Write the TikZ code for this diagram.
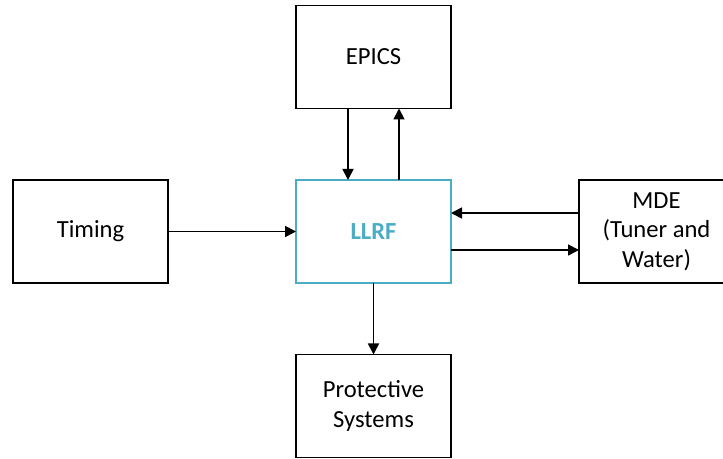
\documentclass[tikz,border=0pt]{standalone}
\usepackage{fontspec}
\setmainfont{Carlito}
\usetikzlibrary{positioning,arrows.meta}
\definecolor{llrfblue}{HTML}{4BACC6}

\begin{document}
\begin{tikzpicture}[
    font=\fontsize{14}{16.8}\selectfont,
    node distance=1.43cm and 2.56cm,
    box/.style={
        draw,
        minimum width=3.1cm,
        minimum height=2.06cm,
        align=center,
        outer sep=0pt,
        line width=1pt
    },
    arr/.style={-{Triangle[length=2.2mm,width=2.2mm]}, line width=1pt}
]
    \useasboundingbox (0,0) rectangle (14.46,9.18);
    %% Zentrale Regelung
    \node[box, draw=llrfblue, text=llrfblue, font=\fontsize{14}{16.8}\selectfont\bfseries] (llrf) at (7.47,4.55) {LLRF};
    %% Umgebende Systeme
    \node[box, above=of llrf] (epics) {EPICS};
    \node[box, left=of llrf] (timing) {Timing};
    \node[box, right=of llrf] (mde) {MDE\\(Tuner and\\Water)};
    \node[box, below=of llrf] (protect) {Protective\\Systems};

    %% Pfeile
    \draw[arr] ([xshift=-0.51cm]epics.south) -- ([xshift=-0.51cm]llrf.north);
    \draw[arr] ([xshift=0.51cm]llrf.north) -- ([xshift=0.51cm]epics.south);
    \draw[arr] (timing) -- (llrf);
    \draw[arr] ([yshift=0.37cm]mde.west) -- ([yshift=0.37cm]llrf.east);
    \draw[arr] ([yshift=-0.37cm]llrf.east) -- ([yshift=-0.37cm]mde.west);
    \draw[arr] (llrf) -- (protect);
\end{tikzpicture}
\end{document}
